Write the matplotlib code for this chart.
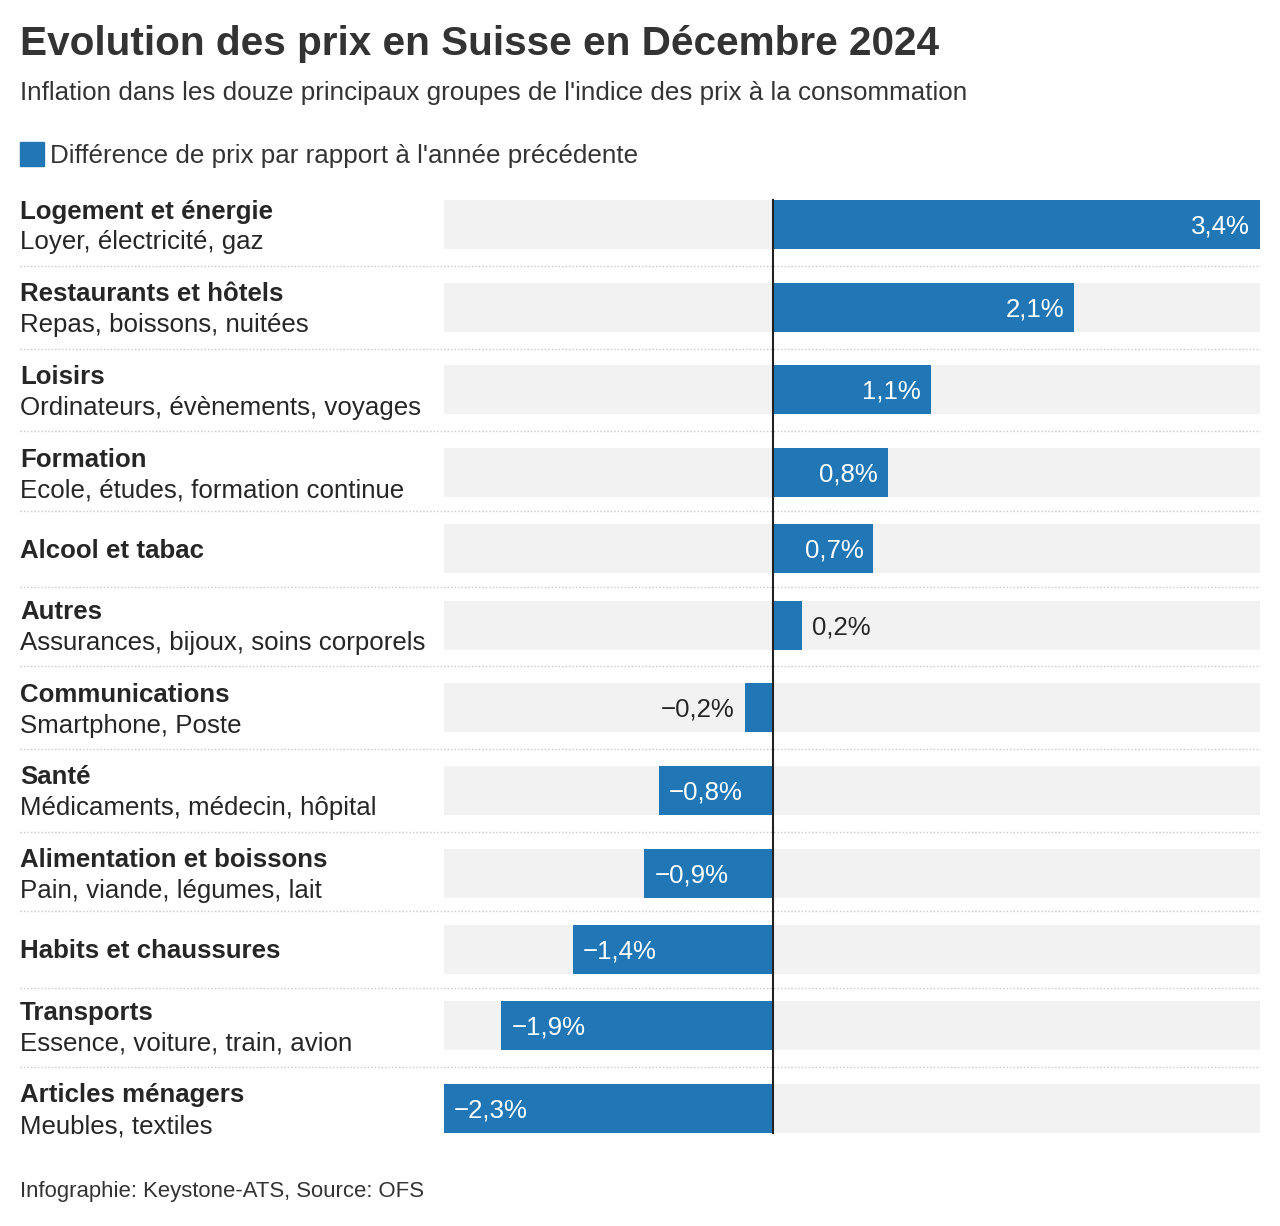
import matplotlib as mpl
import matplotlib.pyplot as plt
from matplotlib.patches import Rectangle

mpl.use('Agg')
plt.rcParams['font.family'] = ['Liberation Sans', 'DejaVu Sans']

groupes = ["Logement et énergie", "Restaurants et hôtels", "Loisirs", "Formation",
           "Alcool et tabac", "Autres", "Communications", "Santé",
           "Alimentation et boissons", "Habits et chaussures", "Transports",
           "Articles ménagers"]
exemples = ["Loyer, électricité, gaz", "Repas, boissons, nuitées",
            "Ordinateurs, évènements, voyages", "Ecole, études, formation continue",
            "", "Assurances, bijoux, soins corporels", "Smartphone, Poste",
            "Médicaments, médecin, hôpital", "Pain, viande, légumes, lait", "",
            "Essence, voiture, train, avion", "Meubles, textiles"]
variation = [3.4, 2.1, 1.1, 0.8, 0.7, 0.2, -0.2, -0.8, -0.9, -1.4, -1.9, -2.3]

titre = "Evolution des prix en Suisse en Décembre 2024"
sous_titre = "Inflation dans les douze principaux groupes de l'indice des prix à la consommation"
legende = "Différence de prix par rapport à l'année précédente"
source = "Infographie: Keystone-ATS, Source: OFS"

BLEU = '#2176b5'
GRIS = '#f2f2f2'
TEXTE = '#262626'
W, H = 1280, 1226
FS = 18.6
DY = 2  # petit décalage vertical du texte


def fy(y):
    # pixel (depuis le haut) -> fraction de figure
    return 1 - y / H


def fx(x):
    return x / W


fig = plt.figure(figsize=(W / 100, H / 100), dpi=100)
ax = fig.add_axes([fx(444), 0, fx(1260 - 444), 1])
ax.set_xlim(min(variation), max(variation))
ax.set_ylim(H, 0)
ax.axis('off')

# positions des lignes (hauteur selon une ou deux lignes de texte)
hauteurs = [82.7 if e else 69.8 for e in exemples]
centres = [224.5]
for i in range(1, len(groupes)):
    centres.append(centres[-1] + (hauteurs[i - 1] + hauteurs[i]) / 2)

bar_h = 49
x0, x1 = ax.get_xlim()
ax.barh(centres, [x1 - x0] * len(centres), left=x0, height=bar_h, color=GRIS, zorder=1)
ax.barh(centres, variation, height=bar_h, color=BLEU, zorder=2)

# séparateurs pointillés
for i in range(len(centres) - 1):
    bas = centres[i] + bar_h / 2
    haut = centres[i + 1] - bar_h / 2
    ys = fy((bas + haut) / 2)
    fig.add_artist(plt.Line2D([fx(20), fx(1260)], [ys, ys], color='#c8c8c8',
                              lw=1, ls=(0, (1, 1.5)), zorder=0))

# ligne zéro
ax.plot([0, 0], [centres[0] - bar_h / 2, centres[-1] + bar_h / 2], color='#222222',
        lw=1.5, zorder=3)

pad = 10 / (816 / (x1 - x0))
for c, v in zip(centres, variation):
    txt = f"{abs(v):.1f}%".replace('.', ',')
    if v < 0:
        txt = '\u2212' + txt
    yc = c + DY
    if abs(v) >= 0.5:
        if v > 0:
            ax.text(v - pad, yc, txt, ha='right', va='center', color='white', fontsize=FS, zorder=4)
        else:
            ax.text(v + pad, yc, txt, ha='left', va='center', color='white', fontsize=FS, zorder=4)
    else:
        if v > 0:
            ax.text(v + pad, yc, txt, ha='left', va='center', color=TEXTE, fontsize=FS, zorder=4)
        else:
            ax.text(v - pad, yc, txt, ha='right', va='center', color=TEXTE, fontsize=FS, zorder=4)

# libellés
for c, g, e in zip(centres, groupes, exemples):
    if e:
        fig.text(fx(20), fy(c - 15 + DY), g, ha='left', va='center', fontsize=FS,
                 fontweight='bold', color=TEXTE)
        fig.text(fx(20), fy(c + 16 + DY), e, ha='left', va='center', fontsize=FS, color=TEXTE)
    else:
        fig.text(fx(20), fy(c + DY), g, ha='left', va='center', fontsize=FS,
                 fontweight='bold', color=TEXTE)

fig.text(fx(20), fy(42 + DY), titre, ha='left', va='center', fontsize=29.2,
         fontweight='bold', color='#333333')
fig.text(fx(20), fy(91 + DY), sous_titre, ha='left', va='center', fontsize=18.7, color='#333333')

fig.add_artist(Rectangle((fx(20), fy(166)), fx(24), 24 / H, color=BLEU))
fig.text(fx(50), fy(154 + DY), legende, ha='left', va='center', fontsize=18.7, color='#333333')

fig.text(fx(20), fy(1190 + DY), source, ha='left', va='center', fontsize=15.9, color='#333333')

plt.savefig('out.png', dpi=100, facecolor='white')
